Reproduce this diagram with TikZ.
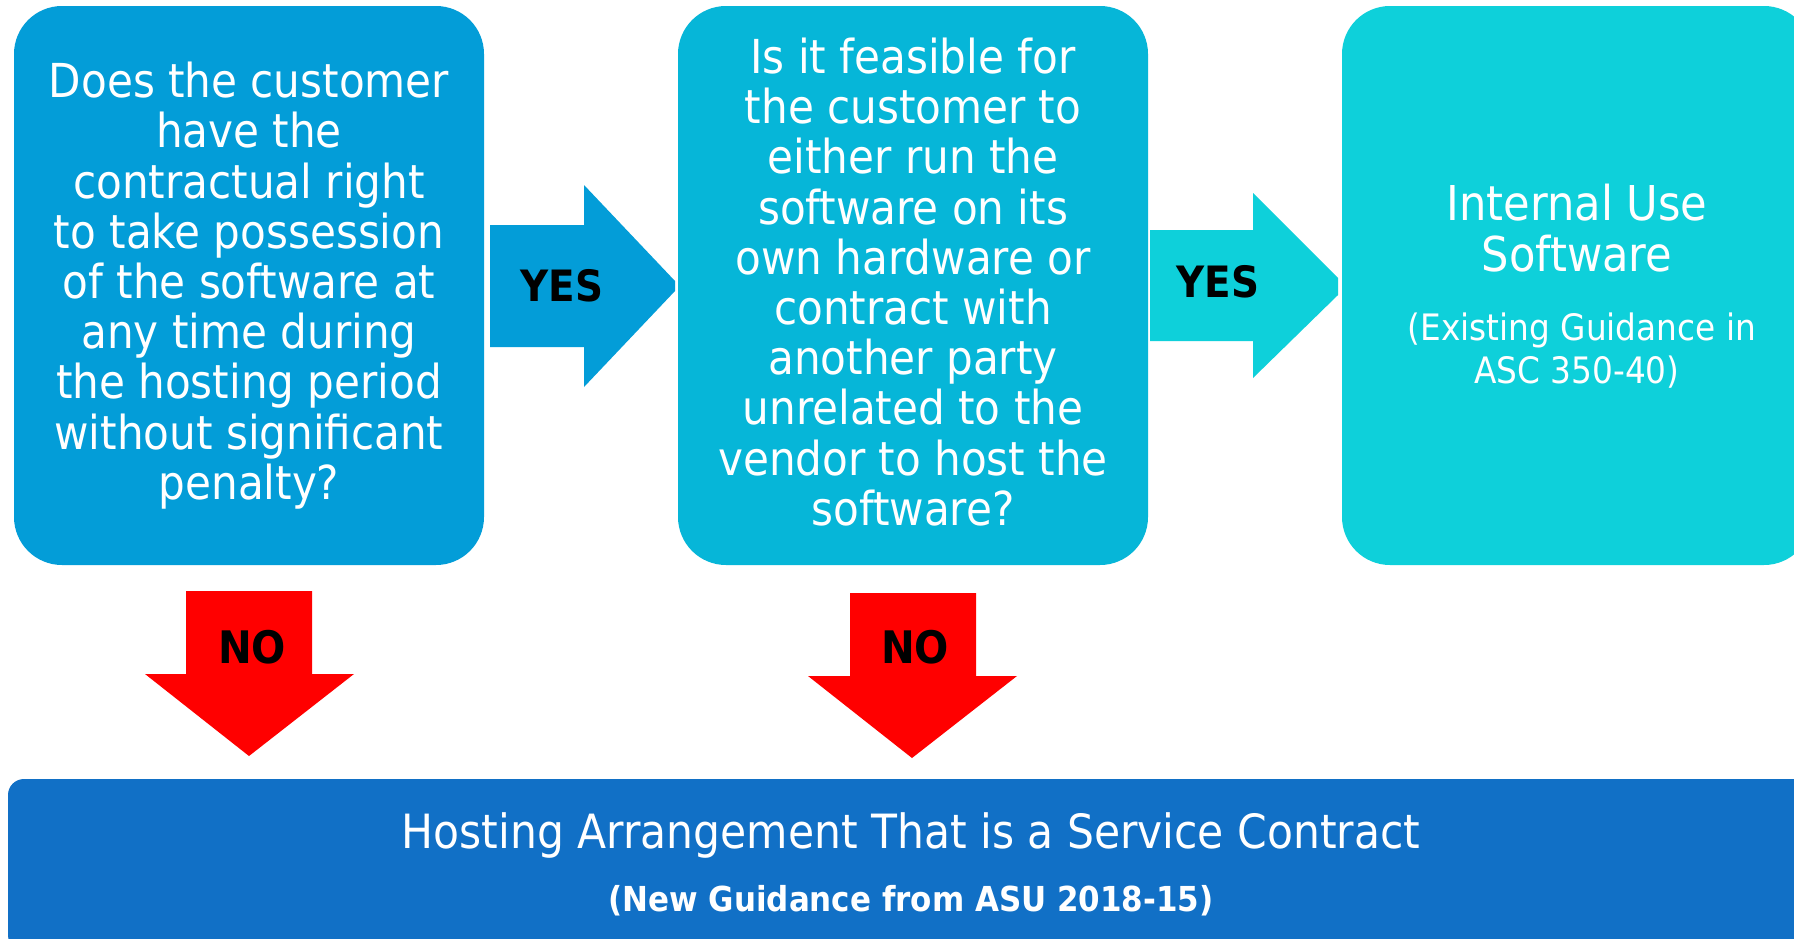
\documentclass[tikz,border=0pt]{standalone}
\usepackage{fontspec}
\setmainfont{DejaVu Sans Condensed}
\definecolor{cboxa}{RGB}{3,157,216}
\definecolor{cboxb}{RGB}{6,182,216}
\definecolor{cboxc}{RGB}{14,208,218}
\definecolor{cbot}{RGB}{17,112,198}
\definecolor{cno}{RGB}{255,0,0}
\begin{document}
\begin{tikzpicture}[x=0.5pt,y=-0.5pt,
  qbox/.style={rounded corners=24pt, minimum width=235pt, minimum height=279.5pt, inner sep=0pt, align=center, text=white, font=\fontsize{23.4}{25.1}\selectfont},
  wtxt/.style={text=white, inner sep=0pt, anchor=base},
  yeslbl/.style={text=black, inner sep=0pt, font=\bfseries\fontsize{21.6}{24}\selectfont},
  nolbl/.style={text=black, inner sep=0pt, font=\bfseries\fontsize{22.4}{24}\selectfont}]
\clip (0,0) rectangle (1794,938);
\fill[white] (0,0) rectangle (1794,938);
% boxes
\node[qbox, fill=cboxa] (q1) at (249,285.5) {Does the customer\\have the\\contractual right\\to take possession\\of the software at\\any time during\\the hosting period\\without significant\\penalty?};
\node[qbox, fill=cboxb] (q2) at (913,285.5) {};
\node[text=white, inner sep=0pt, align=center, font=\fontsize{23.4}{25.1}\selectfont] (q2t) at (913,282) {Is it feasible for\\the customer to\\either run the\\software on its\\own hardware or\\contract with\\another party\\unrelated to the\\vendor to host the\\software?};
\node[qbox, fill=cboxc] (res) at (1577,285.5) {};
\node[wtxt, font=\fontsize{24}{25}\selectfont] (r1) at (1577,220) {Internal Use};
\node[wtxt, font=\fontsize{24}{25}\selectfont] (r2) at (1577,271) {Software};
\node[wtxt, font=\fontsize{18.2}{19}\selectfont] (r3) at (1582,340) {(Existing Guidance in};
\node[wtxt, font=\fontsize{18.2}{19}\selectfont] (r4) at (1577,383) {ASC 350-40)};
\node[fill=cbot, rounded corners=8pt, minimum width=903pt, minimum height=86pt, inner sep=0pt] (svc) at (911,865) {};
\node[wtxt, font=\fontsize{23.6}{25}\selectfont] (s1) at (911,848) {Hosting Arrangement That is a Service Contract};
\node[wtxt, font=\bfseries\fontsize{17.2}{19}\selectfont] (s2) at (911,911) {(New Guidance from ASU 2018-15)};
% YES arrows
\fill[cboxa] (490,225) -- (584,225) -- (584,185) -- (675,281) -- (675,291) -- (584,387) -- (584,347) -- (490,347) -- cycle;
\node[yeslbl] (y1) at (562,286) {YES};
\fill[cboxc] (1150,230) -- (1253,230) -- (1253,193) -- (1338,278) -- (1338,295) -- (1253,378) -- (1253,341) -- (1150,341) -- cycle;
\node[yeslbl] (y2) at (1218,282) {YES};
% NO arrows
\fill[cno] (186,591) -- (312,591) -- (312,674) -- (354,674) -- (249,756) -- (145,674) -- (186,674) -- cycle;
\node[nolbl] (n1) at (252,647) {NO};
\fill[cno] (850,593) -- (976,593) -- (976,676) -- (1017,676) -- (912,758) -- (808,676) -- (850,676) -- cycle;
\node[nolbl] (n2) at (915,647) {NO};
\end{tikzpicture}
\end{document}
